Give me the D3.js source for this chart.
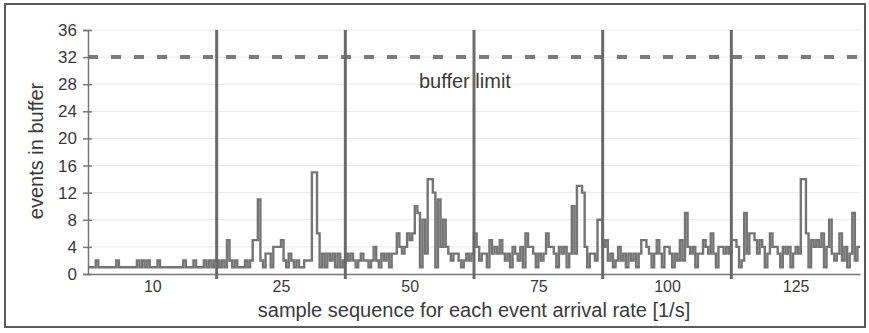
<!DOCTYPE html>
<html>
<head>
<meta charset="utf-8">
<script src="https://cdn.jsdelivr.net/npm/d3@7"></script>
<style>
  body { margin: 0; background: #fff; }
  svg text { font-family: "Liberation Sans", Arial, sans-serif; fill: #3a3a3a; }
</style>
</head>
<body>
<div id="chart"></div>
<script>
// event arrival rates [1/s], one block of samples each
var rates = [10, 25, 50, 75, 100, 125];

// events in buffer, per sample, for each rate
var seg10  = [1,1,1,2,1,1,1,1,1,1, 1,2,1,1,1,1,1,1,1,2, 1,2,1,2,1,1,1,2,1,1, 1,1,1,1,1,1,1,2,1,1, 1,2,1,1,1,2,1,2,1,2];
var seg25  = [2,1,2,1,5,2,1,2,1,1, 1,2,1,2,5,5,11,2,1,3, 3,1,4,4,4,5,2,1,3,2, 1,2,1,1,2,2,2,15,15,6, 1,3,1,3,2,3,1,3,1,2];
var seg50  = [3,2,3,2,1,2,3,2,2,1, 2,4,2,1,3,2,3,1,3,3, 6,4,3,4,6,5,6,10,9,1, 8,3,14,14,12,1,11,4,8,4, 3,2,3,3,2,1,2,3,2,3];
var seg75  = [6,4,2,3,3,1,5,3,4,3, 5,3,2,3,1,4,3,2,4,1, 6,4,4,3,1,3,2,3,6,4, 4,3,1,4,3,4,1,3,10,3, 13,13,12,4,1,3,3,2,8,8];
var seg100 = [4,5,2,3,1,2,4,2,3,1, 3,2,3,1,3,5,5,4,3,1, 3,5,3,1,4,4,3,1,3,2, 5,2,9,4,3,4,1,3,3,5, 4,3,6,3,1,4,4,3,4,3];
var seg125 = [5,5,4,1,2,9,3,6,6,5, 3,5,4,1,3,6,4,4,3,1, 4,3,4,1,3,4,3,14,14,6, 1,5,4,5,4,6,1,4,8,3, 2,3,6,2,4,1,3,9,2,4];

var yTicks = [0, 4, 8, 12, 16, 20, 24, 28, 32, 36];
var bufferLimit = 32;

var segments = [seg10, seg25, seg50, seg75, seg100, seg125];
var perSeg = seg10.length;
var samples = [];
segments.forEach(function (s) { s.forEach(function (v) { samples.push(v); }); });
var total = samples.length;
// keep the last value so the step reaches the right edge
var steps = samples.map(function (v, i) { return [i, v]; });
steps.push([total, samples[total - 1]]);

var width = 869, height = 333;

var svg = d3.select("#chart").append("svg")
  .attr("width", width)
  .attr("height", height);

svg.append("rect").attr("width", width).attr("height", height).attr("fill", "#fff");

// outer frame
svg.append("rect")
  .attr("x", 5).attr("y", 4)
  .attr("width", 860).attr("height", 323)
  .attr("fill", "none")
  .attr("stroke", "#5a5a5a")
  .attr("stroke-width", 2);

var x = d3.scaleLinear().domain([0, total]).range([88, 860]);
var y = d3.scaleLinear().domain([0, 36]).range([274, 30]);

// faint grid
svg.append("g")
  .selectAll("line")
  .data(yTicks.filter(function (d) { return d > 0; }))
  .enter().append("line")
  .attr("x1", x(0)).attr("x2", x(total))
  .attr("y1", function (d) { return y(d); })
  .attr("y2", function (d) { return y(d); })
  .attr("stroke", "#e8e8e8")
  .attr("stroke-width", 1);

svg.append("text")
  .attr("x", 419)
  .attr("y", 88)
  .style("font-size", "20px")
  .text("buffer limit");

// buffer limit
svg.append("line")
  .attr("x1", x(0)).attr("x2", x(total))
  .attr("y1", y(bufferLimit)).attr("y2", y(bufferLimit))
  .attr("stroke", "#7a7a7a")
  .attr("stroke-width", 4)
  .attr("stroke-dasharray", "10,13");

// y axis
svg.append("g")
  .attr("class", "y axis")
  .attr("transform", "translate(" + x(0) + ",0)")
  .call(d3.axisLeft(y).tickValues(yTicks).tickSize(5).tickPadding(6))
  .call(function (g) {
    g.select(".domain").attr("stroke", "#777").attr("stroke-width", 1.5);
    g.selectAll(".tick line").attr("x1", 4).attr("stroke", "#777").attr("stroke-width", 1.5);
    g.selectAll(".tick text").style("font-size", "17px").style("fill", "#3a3a3a");
  });

// x axis: rate labels centred under each block
var centers = rates.map(function (r, k) { return k * perSeg + perSeg / 2; });
svg.append("g")
  .attr("class", "x axis")
  .attr("transform", "translate(0," + y(0) + ")")
  .call(d3.axisBottom(x).tickValues(centers).tickSize(0).tickPadding(7)
    .tickFormat(function (d, i) { return rates[i]; }))
  .call(function (g) {
    g.select(".domain").attr("stroke", "#777").attr("stroke-width", 1.5);
    g.selectAll(".tick text").style("font-size", "16px").style("fill", "#3a3a3a");
  });

// samples as a step line
var line = d3.line()
  .x(function (d) { return x(d[0]); })
  .y(function (d) { return y(d[1]); })
  .curve(d3.curveStepAfter);

svg.append("path")
  .datum(steps)
  .attr("d", line)
  .attr("fill", "none")
  .attr("stroke", "#757575")
  .attr("stroke-width", 2.4);

// block separators
var bounds = rates.slice(1).map(function (r, k) { return (k + 1) * perSeg; });
svg.append("g")
  .selectAll("line")
  .data(bounds)
  .enter().append("line")
  .attr("x1", function (d) { return x(d); })
  .attr("x2", function (d) { return x(d); })
  .attr("y1", y(36))
  .attr("y2", y(0) + 5)
  .attr("stroke", "#6a6a6a")
  .attr("stroke-width", 3);

svg.append("text")
  .attr("x", 474)
  .attr("y", 317)
  .attr("text-anchor", "middle")
  .style("font-size", "20px")
  .text("sample sequence for each event arrival rate [1/s]");

svg.append("text")
  .attr("transform", "translate(43,151)rotate(-90)")
  .attr("text-anchor", "middle")
  .style("font-size", "20px")
  .text("events in buffer");
</script>
</body>
</html>
